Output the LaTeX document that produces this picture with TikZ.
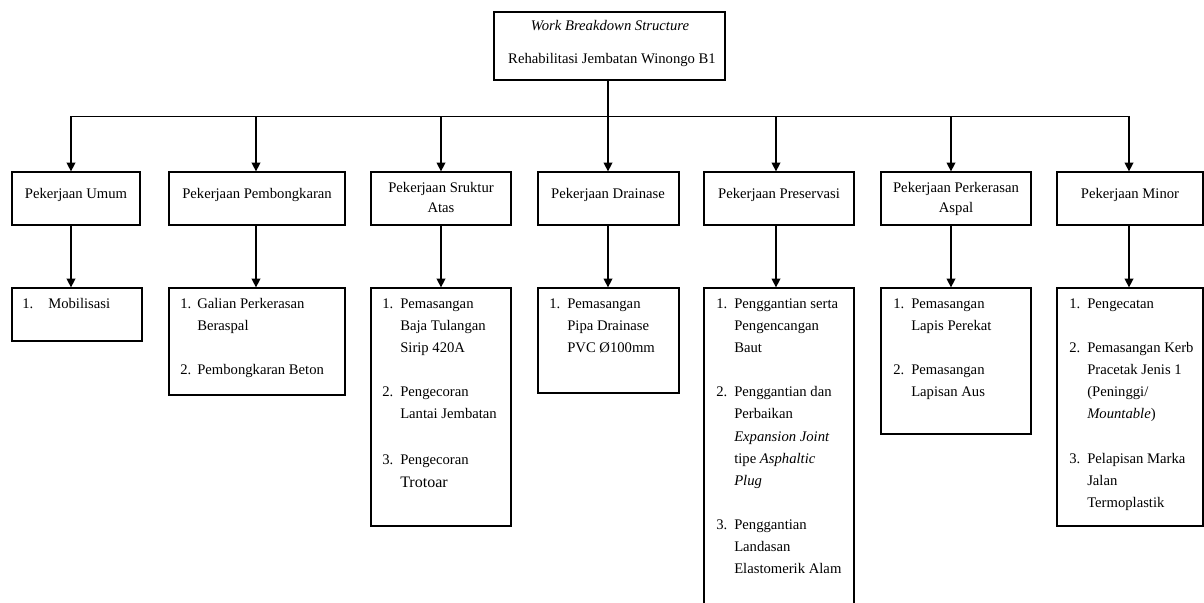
\documentclass[tikz,border=0pt]{standalone}
\usepackage{fontspec}
\setmainfont{Liberation Serif}
\usetikzlibrary{arrows.meta,fit}
\newcounter{tlc}
\newcommand{\tl}[3]{\stepcounter{tlc}\node[txt,anchor=base west] (tl\thetlc) at (#1,#2) {#3};}
\newcommand{\tc}[3]{\stepcounter{tlc}\node[txt,anchor=base] (tl\thetlc) at (#1,#2) {#3};}
\begin{document}
\begin{tikzpicture}[x=0.75pt,y=-0.75pt,
  box/.style={draw,line width=0.95pt,inner sep=0pt},
  txt/.style={inner sep=0pt,font=\fontsize{11pt}{13pt}\selectfont},
  arr/.style={line width=1.05pt,-{Triangle[width=6.5pt,length=6.5pt]}},
  bus/.style={line width=0.7pt}]
\useasboundingbox (0,0) rectangle (1204,603);
% top box
\node[box,fit={(494,12) (725,80)}] (wbs) {};
\tc{610}{31}{\textit{Work Breakdown Structure}}
\tc{612}{63}{Rehabilitasi Jembatan Winongo B1}
% level 1 boxes
\node[box,fit={(12,172) (140,225)}] (a1) {};
\node[box,fit={(169,172) (345,225)}] (a2) {};
\node[box,fit={(371,172) (511,225)}] (a3) {};
\node[box,fit={(538,172) (679,225)}] (a4) {};
\node[box,fit={(704,172) (854,225)}] (a5) {};
\node[box,fit={(881,172) (1031,225)}] (a6) {};
\node[box,fit={(1057,172) (1203,225)}] (a7) {};
\tc{76}{198}{Pekerjaan Umum}
\tc{257}{198}{Pekerjaan Pembongkaran}
\tc{441}{192}{Pekerjaan Sruktur}
\tc{441}{212}{Atas}
\tc{608}{198}{Pekerjaan Drainase}
\tc{779}{198}{Pekerjaan Preservasi}
\tc{956}{192}{Pekerjaan Perkerasan}
\tc{956}{212}{Aspal}
\tc{1130}{198}{Pekerjaan Minor}
% level 2 boxes
\node[box,fit={(12,288) (142,341)}] (b1) {};
\node[box,fit={(169,288) (345,395)}] (b2) {};
\node[box,fit={(371,288) (511,526)}] (b3) {};
\node[box,fit={(538,288) (679,393)}] (b4) {};
\node[box,fit={(704,288) (854,620)}] (b5) {};
\node[box,fit={(881,288) (1031,434)}] (b6) {};
\node[box,fit={(1057,288) (1203,526)}] (b7) {};
% bus coordinates
\coordinate (bus) at (608,116);
\coordinate (c1) at (71,116);
\coordinate (c2) at (256,116);
\coordinate (c3) at (441,116);
\coordinate (c4) at (608,116);
\coordinate (c5) at (776,116);
\coordinate (c6) at (951,116);
\coordinate (c7) at (1129,116);
\draw[line width=1.05pt] (wbs.south -| bus) -- (bus);
\draw[bus] (c1) -- (c7);
\foreach \i in {1,...,7}{
  \draw[arr] (c\i) -- (c\i |- a\i.north);
  \draw[arr] (c\i |- a\i.south) -- (c\i |- b\i.north);
}
% level 2 texts
\tl{22}{308}{1.}
\tl{48}{308}{Mobilisasi}
%
\tl{180}{308}{1.}\tl{197}{308}{Galian Perkerasan}
\tl{197}{330}{Beraspal}
\tl{180}{374}{2.}\tl{197}{374}{Pembongkaran Beton}
%
\tl{382}{308}{1.}\tl{400}{308}{Pemasangan}
\tl{400}{330}{Baja Tulangan}
\tl{400}{352}{Sirip 420A}
\tl{382}{396}{2.}\tl{400}{396}{Pengecoran}
\tl{400}{418}{Lantai Jembatan}
\tl{382}{464}{3.}\tl{400}{464}{Pengecoran}
\tl{400}{487}{\fontsize{12pt}{14pt}\selectfont Trotoar}
%
\tl{549}{308}{1.}\tl{567}{308}{Pemasangan}
\tl{567}{330}{Pipa Drainase}
\tl{567}{352}{PVC Ø100mm}
%
\tl{716}{308}{1.}\tl{734}{308}{Penggantian serta}
\tl{734}{330}{Pengencangan}
\tl{734}{352}{Baut}
\tl{716}{396}{2.}\tl{734}{396}{Penggantian dan}
\tl{734}{418}{Perbaikan}
\tl{734}{441}{\textit{Expansion Joint}}
\tl{734}{463}{tipe \textit{Asphaltic}}
\tl{734}{485}{\textit{Plug}}
\tl{716}{529}{3.}\tl{734}{529}{Penggantian}
\tl{734}{551}{Landasan}
\tl{734}{573}{Elastomerik Alam}
%
\tl{893}{308}{1.}\tl{911}{308}{Pemasangan}
\tl{911}{330}{Lapis Perekat}
\tl{893}{374}{2.}\tl{911}{374}{Pemasangan}
\tl{911}{396}{Lapisan Aus}
%
\tl{1069}{308}{1.}\tl{1087}{308}{Pengecatan}
\tl{1069}{352}{2.}\tl{1087}{352}{Pemasangan Kerb}
\tl{1087}{374}{Pracetak Jenis 1}
\tl{1087}{396}{(Peninggi/}
\tl{1087}{418}{\textit{Mountable})}
\tl{1069}{463}{3.}\tl{1087}{463}{Pelapisan Marka}
\tl{1087}{485}{Jalan}
\tl{1087}{507}{Termoplastik}
\end{tikzpicture}
\end{document}
